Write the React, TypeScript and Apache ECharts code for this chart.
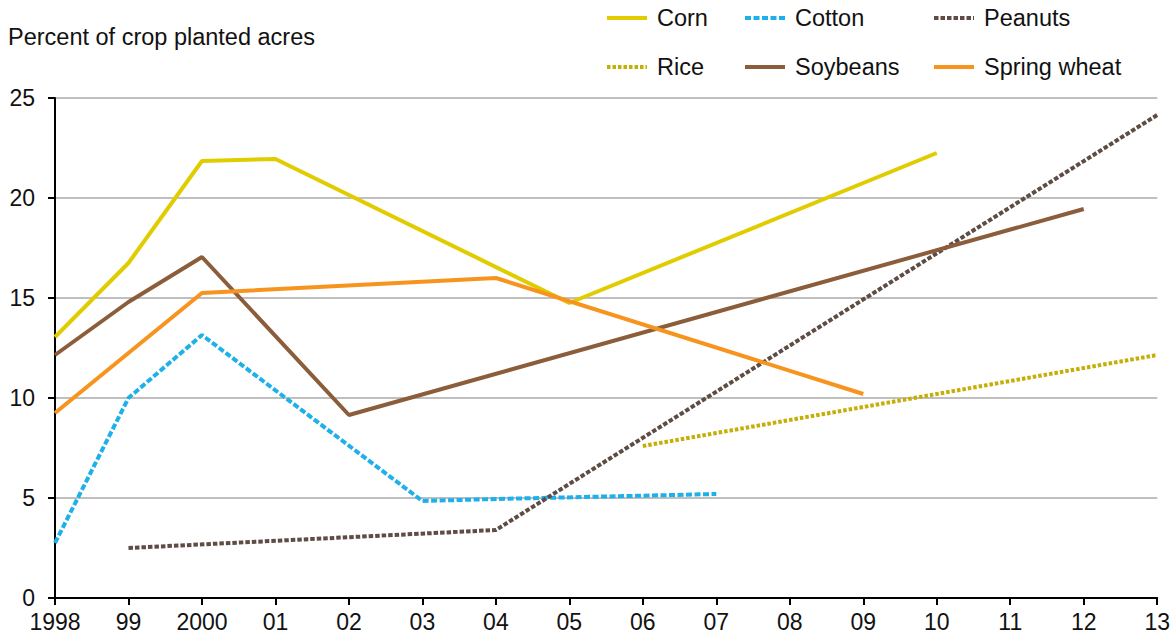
import React, { useEffect, useRef } from "react";
import * as echarts from "echarts";

const years = ["1998", "99", "2000", "01", "02", "03", "04", "05", "06", "07", "08", "09", "10", "11", "12", "13"];
const corn = [13.05, 16.75, 21.85, 21.95, null, null, null, 14.75, null, null, null, null, 22.25, null, null, null];
const cotton = [2.75, 10.0, 13.15, null, null, 4.85, 4.95, null, null, 5.2, null, null, null, null, null, null];
const peanuts = [null, 2.5, null, null, null, null, 3.4, null, null, null, null, null, null, null, null, 24.15];
const rice = [null, null, null, null, null, null, null, null, 7.6, null, null, null, null, null, null, 12.15];
const soybeans = [12.15, 14.8, 17.05, null, 9.15, null, null, null, null, null, null, null, null, null, 19.45, null];
const springWheat = [9.25, null, 15.25, null, null, null, 16.0, null, null, null, null, 10.2, null, null, null, null];
const yTicks = [0, 5, 10, 15, 20, 25];

const FONT = "'Liberation Sans', Arial, Helvetica, sans-serif";

export default function App() {
  const ref = useRef<HTMLDivElement>(null);
  useEffect(() => {
    if (!ref.current) return;
    const chart = echarts.init(ref.current, null, { renderer: "svg" });
    const mk = (name: string, data: any[], color: string, type: any) => ({
      name,
      type: "line",
      data,
      connectNulls: true,
      symbol: "none",
      lineStyle: { color, width: 4, type, cap: "butt" },
      itemStyle: { color },
      z: 3,
    });
    const legendItem = (name: string, left: number, top: number) => ({
      data: [name],
      left,
      top,
      padding: 0,
      itemWidth: 40,
      itemHeight: 14,
      selectedMode: false,
      itemStyle: { opacity: 0 },
      lineStyle: { width: 4 },
      textStyle: { fontSize: 23.5, fontFamily: FONT, color: "#111", padding: [0, 0, 0, 5] },
    });
    chart.setOption({
      animation: false,
      backgroundColor: "#fff",
      grid: { left: 55, right: 15, top: 98, bottom: 40, containLabel: false },
      legend: [
        legendItem("Corn", 605, 6),
        legendItem("Cotton", 743, 6),
        legendItem("Peanuts", 932, 6),
        legendItem("Rice", 605, 55),
        legendItem("Soybeans", 743, 55),
        legendItem("Spring wheat", 932, 55),
      ],
      graphic: [
        {
          type: "text",
          left: 8,
          top: 25,
          style: { text: "Percent of crop planted acres", fontSize: 23.5, fontFamily: FONT, fill: "#111" },
        },
      ],
      xAxis: {
        type: "category",
        data: years,
        boundaryGap: false,
        axisLine: { lineStyle: { color: "#000", width: 2 } },
        axisTick: { show: true, length: 7, lineStyle: { color: "#000", width: 2 } },
        axisLabel: { fontSize: 23, fontFamily: FONT, color: "#111", margin: 12, interval: 0 },
        splitLine: { show: false },
      },
      yAxis: {
        type: "value",
        min: 0,
        max: 25,
        interval: 5,
        axisLine: { show: true, lineStyle: { color: "#000", width: 2 } },
        axisTick: { show: true, length: 7, lineStyle: { color: "#000", width: 2 } },
        axisLabel: {
          fontSize: 23,
          fontFamily: FONT,
          color: "#111",
          margin: 20,
          formatter: (v: number) => (yTicks.includes(v) ? String(v) : ""),
        },
        splitLine: { show: true, lineStyle: { color: "#aaa", width: 1.5 } },
      },
      series: [
        mk("Corn", corn, "#E1CC00", "solid"),
        mk("Cotton", cotton, "#1DB0EA", [6, 2.5]),
        mk("Peanuts", peanuts, "#5E4C45", [4.5, 2]),
        mk("Rice", rice, "#C5AE06", [3.5, 2]),
        mk("Soybeans", soybeans, "#8B5D3B", "solid"),
        mk("Spring wheat", springWheat, "#F7941E", "solid"),
      ],
    });
    return () => chart.dispose();
  }, []);
  return <div ref={ref} style={{ position: "fixed", left: 0, top: 0, width: 1173, height: 638 }} />;
}
